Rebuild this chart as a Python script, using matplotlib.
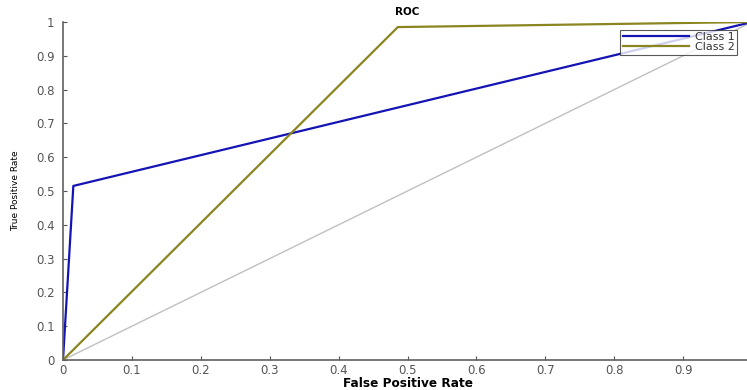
import numpy as np
import matplotlib
matplotlib.use('Agg')
import matplotlib.pyplot as plt

plt.rcParams['font.family'] = ['DejaVu Sans']

# ROC points
fpr_c1 = [0.0, 0.015, 1.0]
tpr_c1 = [0.0, 0.515, 1.0]
fpr_c2 = [0.0, 0.486, 1.0]
tpr_c2 = [0.0, 0.985, 1.0]
chance = [0.0, 1.0]

ticks = np.round(np.arange(0, 1.01, 0.1), 1)
xtick_labels = ['0'] + [f'{t:g}' for t in ticks[1:10]] + ['']
ytick_labels = ['0'] + [f'{t:g}' for t in ticks[1:10]] + ['1']

fig = plt.figure(figsize=(7.47, 3.90), dpi=100)
ax = fig.add_axes([63 / 747, 30 / 390, 689 / 747, 338 / 390])

ax.plot(chance, chance, color='#c0c0c0', lw=1.0)
ax.plot(fpr_c1, tpr_c1, color='#1414b4', lw=1.6, label='Class 1')
ax.plot(fpr_c2, tpr_c2, color='#8a8520', lw=1.6, label='Class 2')

ax.set_xlim(0, 1)
ax.set_ylim(0, 1)
ax.set_xticks(ticks)
ax.set_xticklabels(xtick_labels)
ax.set_yticks(ticks)
ax.set_yticklabels(ytick_labels)
ax.tick_params(direction='in', length=3, labelsize=8.5, colors='#555555')
ax.tick_params(axis='y', pad=6)
ax.tick_params(axis='x', pad=3)

for s in ['top', 'right']:
    ax.spines[s].set_visible(False)
for s in ['left', 'bottom']:
    ax.spines[s].set_color('#606060')
    ax.spines[s].set_linewidth(1.2)

ax.set_title('ROC', fontsize=7.5, fontweight='bold', pad=5)
ax.set_xlabel('False Positive Rate', fontsize=8.7, fontweight='bold', labelpad=0)
ax.set_ylabel('True Positive Rate', fontsize=6.5)
ax.yaxis.set_label_coords(-0.062, 0.5)

leg = ax.legend(loc='upper right', bbox_to_anchor=(0.978, 0.976), fontsize=8,
                frameon=True, fancybox=False, edgecolor='#303030',
                handlelength=6, borderpad=0.2, labelspacing=0.0, handletextpad=0.5,
                borderaxespad=0)
leg.get_frame().set_linewidth(0.8)
for t in leg.get_texts():
    t.set_color('#333333')

fig.savefig('out.png', dpi=100)
